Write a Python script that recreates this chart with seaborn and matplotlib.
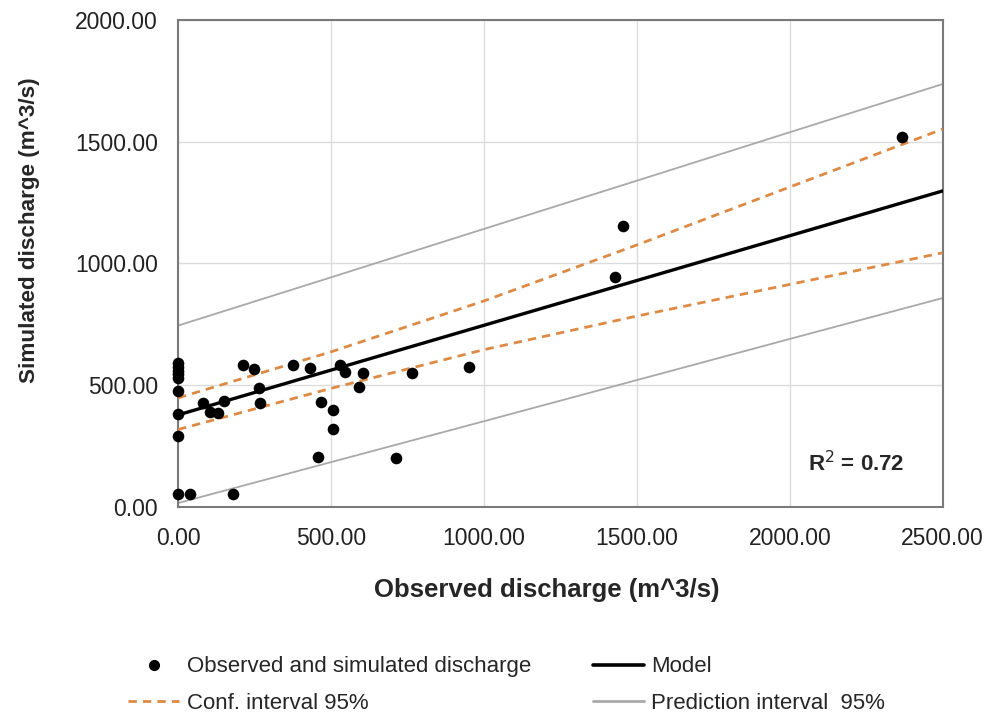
import numpy as np
import pandas as pd
import matplotlib
matplotlib.use("Agg")
import matplotlib.pyplot as plt
import seaborn as sns
from matplotlib.lines import Line2D

# ---- data ----
obs_x = [0, 0, 0, 0, 0, 0, 0, 0, 0, 39, 81, 104, 132, 151, 179, 211, 248, 265, 268,
         377, 431, 467, 456, 507, 505, 529, 546, 593, 606, 764, 711, 952, 1428, 1455, 2368]
sim_y = [590, 575, 560, 545, 530, 475, 380, 293, 53, 53, 428, 391, 385, 435, 52, 583, 565, 487, 428,
         583, 570, 432, 207, 398, 319, 583, 556, 494, 552, 549, 202, 574, 946, 1154, 1521]

line_x = [0, 500, 1000, 1500, 2000, 2500]
model_y = [378, 562, 746, 930, 1114, 1298]
conf_upper = [448, 637, 846, 1076, 1314, 1552]
conf_lower = [318, 487, 646, 784, 914, 1044]
pred_upper = [745, 943, 1142, 1340, 1539, 1737]
pred_lower = [16, 184, 352, 521, 690, 858]

x_ticks = [0, 500, 1000, 1500, 2000, 2500]
y_ticks = [0, 500, 1000, 1500, 2000]
r2_text = "R$^2$ = 0.72"

sns.set_style("white")
plt.rcParams["font.family"] = ["Liberation Sans", "DejaVu Sans"]

fig = plt.figure(figsize=(9.84, 7.15), dpi=100)
ax = fig.add_axes([0.181, 0.291, 0.777, 0.681])

orange = "#dd8a45"
grey = "#a9a9a9"

lines = pd.DataFrame({"x": line_x, "model": model_y, "cu": conf_upper, "cl": conf_lower,
                      "pu": pred_upper, "pl": pred_lower})

sns.lineplot(data=lines, x="x", y="pu", ax=ax, color=grey, lw=1.3, zorder=2)
sns.lineplot(data=lines, x="x", y="pl", ax=ax, color=grey, lw=1.3, zorder=2)
sns.lineplot(data=lines, x="x", y="cu", ax=ax, color=orange, lw=2.0, zorder=3,
             linestyle=(0, (3, 2.2)))
sns.lineplot(data=lines, x="x", y="cl", ax=ax, color=orange, lw=2.0, zorder=3,
             linestyle=(0, (3, 2.2)))
sns.lineplot(data=lines, x="x", y="model", ax=ax, color="black", lw=2.4, zorder=4)

pts = pd.DataFrame({"obs": obs_x, "sim": sim_y})
sns.scatterplot(data=pts, x="obs", y="sim", ax=ax, color="black", s=70,
                edgecolor="black", linewidth=0, zorder=5, clip_on=False)

ax.set_xlim(0, 2500)
ax.set_ylim(0, 2000)
ax.set_xticks(x_ticks)
ax.set_yticks(y_ticks)
ax.set_xticklabels([f"{v:.2f}" for v in x_ticks], fontsize=16.5, color="#222222")
ax.set_yticklabels([f"{v:.2f}" for v in y_ticks], fontsize=16.5, color="#222222")
ax.grid(True, color="#dcdcdc", lw=1.0)
ax.set_axisbelow(True)
for s in ax.spines.values():
    s.set_color("#7a7a7a")
    s.set_linewidth(1.5)
ax.tick_params(axis="both", direction="inout", length=8, width=1.2, color="#7a7a7a", pad=10.5)

ax.set_xlabel("Observed discharge (m^3/s)", fontsize=18.5, fontweight="bold")
ax.set_ylabel("Simulated discharge (m^3/s)", fontsize=16.2, fontweight="bold")
ax.xaxis.set_label_coords(0.482, -0.146)
ax.yaxis.set_label_coords(-0.18, 0.569)

ax.text(0.950, 0.090, r2_text, transform=ax.transAxes, ha="right", va="center",
        fontsize=16, fontweight="bold")

handles = [
    Line2D([], [], marker="o", color="black", linestyle="none", markersize=7),
    Line2D([], [], color=orange, lw=2.0, linestyle=(0, (3, 2.2))),
    Line2D([], [], color="black", lw=2.6),
    Line2D([], [], color=grey, lw=2.0),
]
labels = ["Observed and simulated discharge", "Conf. interval 95%", "Model",
          "Prediction interval  95%"]
fig.legend(handles, labels, ncol=2, loc="center", bbox_to_anchor=(0.515, 0.042),
           frameon=False, fontsize=16, handlelength=2.3, handletextpad=0.35,
           columnspacing=2.75, labelspacing=0.68, borderpad=0.2)

fig.savefig("out.png", dpi=100)
